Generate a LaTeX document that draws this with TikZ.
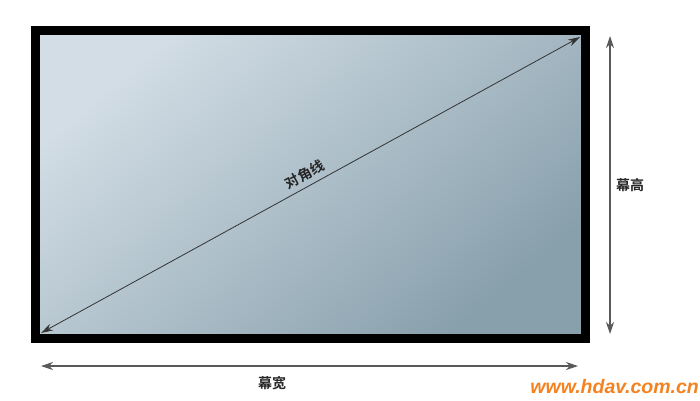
\documentclass[tikz,border=0pt]{standalone}
\usepackage{fontspec}
\newfontfamily\cjk{Noto Sans CJK SC}[BoldFont=Noto Sans CJK SC Bold]
\newfontfamily\wm{Liberation Sans}
\usetikzlibrary{arrows.meta}
\definecolor{lightscr}{RGB}{210,221,229}
\definecolor{midscr}{RGB}{192,206,215}
\definecolor{darkscr}{RGB}{136,160,172}
\definecolor{wmorange}{RGB}{245,130,32}
\tikzset{
  dimarrow/.style={draw=black!65, line width=1.1pt, {Stealth[length=12pt,width=8pt]}-{Stealth[length=12pt,width=8pt]}},
  diagarrow/.style={draw=black!80, line width=0.8pt, {Stealth[length=12pt,width=7pt]}-{Stealth[length=12pt,width=7pt]}},
  lbl/.style={font=\cjk\bfseries\fontsize{14}{14}\selectfont, text=black!85, inner sep=2pt}
}
\begin{document}
\begin{tikzpicture}[x=1pt,y=-1pt]
\useasboundingbox (0,0) rectangle (700,400);
% screen surface
\shade[top color=lightscr, middle color=midscr, bottom color=darkscr, shading angle=40] (40,35) rectangle (581,334);
% frame
\draw[line width=9pt] (35.5,30.5) rectangle (585.5,338.5);
% corner coordinates
\coordinate (bl) at (41,333);
\coordinate (tr) at (580,37);
\coordinate (vt) at (610,36);
\coordinate (vb) at (610,334);
\coordinate (hl) at (41,366);
\coordinate (hr) at (578,366);
% diagonal
\draw[diagarrow] (bl) -- node[lbl, sloped, above=3pt] (diag) {对角线} (tr);
% height
\draw[dimarrow] (vt) -- (vb);
\node[lbl] (h) at (630,185) {幕高};
% width
\draw[dimarrow] (hl) -- (hr);
\node[lbl] (w) at (272,383) {幕宽};
% watermark
\node[font=\wm\bfseries\itshape\fontsize{19.5}{19.5}\selectfont, text=wmorange, anchor=east, inner sep=0pt] (wmk) at (699,387) {www.hdav.com.cn};
\end{tikzpicture}
\end{document}
